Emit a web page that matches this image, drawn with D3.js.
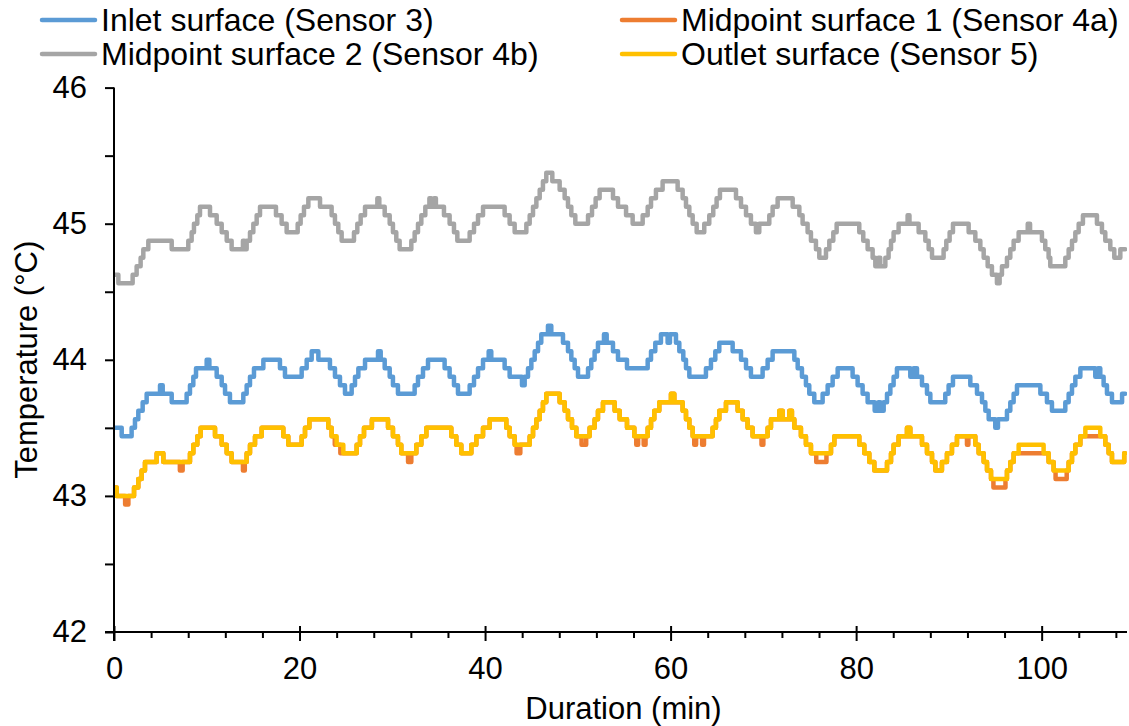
<!DOCTYPE html>
<html>
<head>
<meta charset="utf-8">
<script src="https://cdn.jsdelivr.net/npm/d3@7"></script>
<style>
  html, body { margin: 0; padding: 0; background: #fff; }
  svg { display: block; font-family: "Liberation Sans", Arial, sans-serif; }
</style>
</head>
<body>
<svg id="chart" width="1129" height="726"></svg>
<script>
// Surface temperature readings, [minute, °C], one entry per change of the logged value
const inletSurface = [
  [0,43.5],[0.83,43.4375],[1.9,43.5],[2.26,43.5625],[2.62,43.625],[3.09,43.6875],[3.52,43.75],
  [4.96,43.8125],[5.25,43.75],[6.22,43.6875],[7.83,43.75],[8.19,43.8125],[8.55,43.875],[8.84,43.9375],
  [9.99,44.0],[10.28,43.9375],[11.07,43.875],[11.61,43.8125],[11.97,43.75],[12.5,43.6875],
  [13.94,43.75],[14.3,43.8125],[14.66,43.875],[15.09,43.9375],[16.1,44.0],[17.89,43.9375],[18.43,43.875],
  [20.23,43.9375],[20.77,44.0],[21.31,44.0625],[22.03,44.0],[23.28,43.9375],[23.82,43.875],[24.36,43.8125],
  [24.9,43.75],[25.62,43.8125],[25.98,43.875],[26.34,43.9375],[27.06,44.0],[28.46,44.0625],[28.75,44.0],
  [29.18,43.9375],[29.72,43.875],[30.07,43.8125],[30.61,43.75],[32.41,43.8125],[32.77,43.875],[33.31,43.9375],
  [33.85,44.0],[35.64,43.9375],[36.18,43.875],[36.65,43.8125],[37.08,43.75],[38.34,43.8125],[38.81,43.875],
  [39.24,43.9375],[39.78,44.0],[40.39,44.0625],[40.67,44.0],[42.11,43.9375],[42.65,43.875],[43.98,43.8125],
  [44.27,43.875],[44.63,43.9375],[44.99,44.0],[45.35,44.0625],[45.71,44.125],[46.06,44.1875],[46.78,44.25],
  [47.14,44.1875],[48.4,44.125],[48.94,44.0625],[49.3,44.0],[49.66,43.9375],[50.02,43.875],[51.1,43.9375],
  [51.45,44.0],[51.81,44.0625],[52.17,44.125],[52.82,44.1875],[53.11,44.125],[53.79,44.0625],[54.33,44.0],
  [55.3,43.9375],[57.53,44.0],[57.89,44.0625],[58.35,44.125],[58.96,44.1875],[59.68,44.125],[59.93,44.1875],
  [60.58,44.125],[60.94,44.0625],[61.37,44.0],[61.66,43.9375],[62.02,43.875],[63.81,43.9375],[64.35,44.0],
  [64.82,44.0625],[65.25,44.125],[66.69,44.0625],[67.59,44.0],[68.13,43.9375],[68.66,43.875],[69.92,43.9375],
  [70.46,44.0],[71.0,44.0625],[73.34,44.0],[73.7,43.9375],[74.16,43.875],[74.59,43.8125],[74.95,43.75],
  [75.49,43.6875],[76.39,43.75],[76.93,43.8125],[77.47,43.875],[78.01,43.9375],[79.62,43.875],[80.16,43.8125],
  [80.7,43.75],[81.24,43.6875],[82.0,43.625],[82.4,43.6875],[82.6,43.625],[82.97,43.6875],[83.33,43.75],
  [83.69,43.8125],[84.04,43.875],[84.4,43.9375],[85.84,43.875],[86.2,43.9375],[86.56,43.875],[87.1,43.8125],
  [87.64,43.75],[88.0,43.6875],[89.61,43.75],[89.97,43.8125],[90.44,43.875],[92.31,43.8125],[93.03,43.75],
  [93.57,43.6875],[93.93,43.625],[94.29,43.5625],[95.0,43.5],[95.29,43.5625],[96.26,43.625],[96.62,43.6875],
  [96.98,43.75],[97.34,43.8125],[99.86,43.75],[100.57,43.6875],[101.11,43.625],[102.55,43.6875],[102.91,43.75],
  [103.27,43.8125],[103.63,43.875],[104.17,43.9375],[105.78,43.875],[106.07,43.9375],[106.32,43.875],
  [106.68,43.8125],[107.04,43.75],[107.58,43.6875],[108.67,43.75],[109.0,43.75]
];

const midpointSurface1 = [
  [0,43.0625],[0.29,43.0],[1.2,42.9375],[1.55,43.0],[2.16,43.0625],[2.62,43.125],[2.98,43.1875],[3.34,43.25],
  [4.6,43.3125],[5.32,43.25],[7.1,43.1875],[7.4,43.25],[8.19,43.3125],[8.55,43.375],[8.98,43.4375],[9.34,43.5],
  [10.89,43.4375],[11.61,43.375],[12.15,43.3125],[12.68,43.25],[13.9,43.1875],[14.1,43.25],[14.3,43.3125],
  [14.66,43.375],[15.2,43.4375],[15.92,43.5],[18.25,43.4375],[18.79,43.375],[20.23,43.4375],[20.59,43.5],
  [21.06,43.5625],[23.1,43.5],[23.46,43.4375],[23.8,43.375],[24.4,43.3125],[26.16,43.375],[26.52,43.4375],
  [26.95,43.5],[27.8,43.5625],[29.54,43.5],[30.07,43.4375],[30.61,43.375],[30.97,43.3125],[31.7,43.25],
  [32.05,43.3125],[32.59,43.375],[33.13,43.4375],[33.67,43.5],[36.36,43.4375],[36.9,43.375],[37.44,43.3125],
  [38.52,43.375],[39.06,43.4375],[39.78,43.5],[40.5,43.5625],[42.29,43.5],[42.65,43.4375],[43.19,43.375],
  [43.4,43.3125],[43.8,43.375],[44.81,43.4375],[45.17,43.5],[45.53,43.5625],[45.89,43.625],[46.24,43.6875],
  [46.6,43.75],[48.04,43.6875],[48.58,43.625],[48.94,43.5625],[49.37,43.5],[49.84,43.4375],[50.4,43.375],
  [50.9,43.4375],[51.27,43.5],[51.81,43.5625],[52.17,43.625],[52.71,43.6875],[53.97,43.625],[54.51,43.5625],
  [55.3,43.5],[56.09,43.4375],[56.3,43.375],[56.5,43.4375],[57.1,43.375],[57.3,43.4375],[57.53,43.5],
  [57.89,43.5625],[58.24,43.625],[58.78,43.6875],[60.04,43.75],[60.4,43.6875],[61.3,43.625],[61.66,43.5625],
  [62.02,43.5],[62.38,43.4375],[62.55,43.375],[62.75,43.4375],[63.4,43.375],[63.6,43.4375],[64.53,43.5],
  [64.89,43.5625],[65.25,43.625],[65.97,43.6875],[67.23,43.625],[67.77,43.5625],[68.3,43.5],[68.84,43.4375],
  [69.8,43.375],[70.0,43.4375],[70.46,43.5],[70.82,43.5625],[71.72,43.625],[72.08,43.5625],[72.8,43.625],
  [73.08,43.5625],[73.34,43.5],[74.05,43.4375],[74.59,43.375],[75.13,43.3125],[75.7,43.25],[76.8,43.3125],
  [77.29,43.375],[77.65,43.4375],[80.34,43.375],[80.88,43.3125],[81.42,43.25],[81.96,43.1875],[83.33,43.25],
  [83.76,43.3125],[84.04,43.375],[84.58,43.4375],[85.48,43.5],[85.84,43.4375],[87.1,43.375],[87.64,43.3125],
  [88.18,43.25],[88.54,43.1875],[89.25,43.25],[89.79,43.3125],[90.33,43.375],[90.87,43.4375],[91.95,43.375],
  [92.1,43.4375],[92.85,43.375],[93.21,43.3125],[93.75,43.25],[94.11,43.1875],[94.54,43.125],[94.8,43.0625],
  [96.1,43.125],[96.26,43.1875],[96.62,43.25],[96.98,43.3125],[100.75,43.25],[101.29,43.1875],[101.5,43.125],
  [102.7,43.1875],[102.91,43.25],[103.27,43.3125],[103.63,43.375],[104.17,43.4375],[106.86,43.375],
  [107.22,43.3125],[107.58,43.25],[108.9,43.3125],[109.0,43.3125]
];

const midpointSurface2 = [
  [0,44.625],[0.47,44.5625],[2.01,44.625],[2.44,44.6875],[2.87,44.75],[3.16,44.8125],[3.7,44.875],
  [6.22,44.8125],[8.01,44.875],[8.37,44.9375],[8.62,45.0],[8.98,45.0625],[9.27,45.125],[10.35,45.0625],
  [11.07,45.0],[11.61,44.9375],[12.15,44.875],[12.68,44.8125],[13.9,44.875],[14.05,44.8125],[14.3,44.875],
  [14.66,44.9375],[15.02,45.0],[15.38,45.0625],[15.74,45.125],[17.46,45.0625],[18.07,45.0],[18.61,44.9375],
  [19.8,45.0],[20.12,45.0625],[20.48,45.125],[20.95,45.1875],[22.21,45.125],[23.46,45.0625],[23.82,45.0],
  [24.18,44.9375],[24.54,44.875],[25.87,44.9375],[26.23,45.0],[26.59,45.0625],[27.06,45.125],[28.39,45.1875],
  [28.6,45.125],[29.18,45.0625],[29.72,45.0],[30.07,44.9375],[30.43,44.875],[30.79,44.8125],[32.05,44.875],
  [32.41,44.9375],[32.77,45.0],[33.13,45.0625],[33.56,45.125],[34.0,45.1875],[34.2,45.125],[34.5,45.1875],
  [34.7,45.125],[35.57,45.0625],[36.18,45.0],[36.65,44.9375],[37.01,44.875],[38.34,44.9375],[38.81,45.0],
  [39.24,45.0625],[39.78,45.125],[42.11,45.0625],[42.65,45.0],[43.19,44.9375],[44.45,45.0],[44.81,45.0625],
  [45.17,45.125],[45.53,45.1875],[45.89,45.25],[46.24,45.3125],[46.6,45.375],[47.25,45.3125],[48.04,45.25],
  [48.58,45.1875],[48.94,45.125],[49.3,45.0625],[49.73,45.0],[51.1,45.0625],[51.53,45.125],[51.92,45.1875],
  [52.35,45.25],[53.79,45.1875],[54.33,45.125],[55.2,45.0625],[55.91,45.0],[56.99,45.0625],[57.53,45.125],
  [57.89,45.1875],[58.42,45.25],[59.14,45.3125],[60.76,45.25],[61.3,45.1875],[61.66,45.125],[62.02,45.0625],
  [62.38,45.0],[62.81,44.9375],[63.63,45.0],[64.17,45.0625],[64.6,45.125],[64.96,45.1875],[65.32,45.25],
  [67.05,45.1875],[67.59,45.125],[68.13,45.0625],[68.66,45.0],[69.2,44.9375],[69.56,45.0],[70.64,45.0625],
  [71.0,45.125],[71.54,45.1875],[73.16,45.125],[73.88,45.0625],[74.23,45.0],[74.77,44.9375],[75.13,44.875],
  [75.67,44.8125],[76.03,44.75],[76.75,44.8125],[77.11,44.875],[77.54,44.9375],[77.9,45.0],[80.34,44.9375],
  [80.77,44.875],[81.24,44.8125],[81.78,44.75],[82.07,44.6875],[82.4,44.75],[82.6,44.6875],[83.15,44.75],
  [83.5,44.8125],[83.76,44.875],[84.04,44.9375],[84.58,45.0],[85.55,45.0625],[85.75,45.0],[86.74,44.9375],
  [87.46,44.875],[87.82,44.8125],[88.18,44.75],[89.43,44.8125],[89.72,44.875],[90.08,44.9375],[90.44,45.0],
  [92.13,44.9375],[92.85,44.875],[93.39,44.8125],[93.75,44.75],[94.18,44.6875],[94.64,44.625],[95.18,44.5625],
  [95.47,44.625],[95.72,44.6875],[96.26,44.75],[96.62,44.8125],[96.98,44.875],[97.52,44.9375],[98.5,45.0],
  [98.75,44.9375],[100.03,44.875],[100.39,44.8125],[100.75,44.75],[100.93,44.6875],[102.55,44.75],
  [102.91,44.8125],[103.27,44.875],[103.63,44.9375],[103.99,45.0],[104.45,45.0625],[105.96,45.0],[106.5,44.9375],
  [106.86,44.875],[107.4,44.8125],[107.83,44.75],[108.48,44.8125],[109.0,44.8125]
];

const outletSurface = [
  [0,43.0625],[0.29,43.0],[2.16,43.0625],[2.62,43.125],[2.98,43.1875],[3.34,43.25],[4.6,43.3125],[5.32,43.25],
  [8.19,43.3125],[8.55,43.375],[8.98,43.4375],[9.34,43.5],[10.89,43.4375],[11.61,43.375],[12.15,43.3125],
  [12.68,43.25],[14.3,43.3125],[14.66,43.375],[15.2,43.4375],[15.92,43.5],[18.25,43.4375],[18.79,43.375],
  [20.23,43.4375],[20.59,43.5],[21.06,43.5625],[23.1,43.5],[23.46,43.4375],[24.0,43.375],[24.72,43.3125],
  [26.16,43.375],[26.52,43.4375],[26.95,43.5],[27.8,43.5625],[29.54,43.5],[30.07,43.4375],[30.61,43.375],
  [30.97,43.3125],[32.59,43.375],[33.13,43.4375],[33.67,43.5],[36.36,43.4375],[36.9,43.375],[37.44,43.3125],
  [38.52,43.375],[39.06,43.4375],[39.78,43.5],[40.5,43.5625],[42.29,43.5],[42.65,43.4375],[43.19,43.375],
  [44.81,43.4375],[45.17,43.5],[45.53,43.5625],[45.89,43.625],[46.24,43.6875],[46.6,43.75],[48.04,43.6875],
  [48.58,43.625],[48.94,43.5625],[49.37,43.5],[49.84,43.4375],[51.27,43.5],[51.81,43.5625],[52.17,43.625],
  [52.71,43.6875],[53.97,43.625],[54.51,43.5625],[55.3,43.5],[56.09,43.4375],[57.53,43.5],[57.89,43.5625],
  [58.24,43.625],[58.78,43.6875],[60.04,43.75],[60.4,43.6875],[61.3,43.625],[61.66,43.5625],[62.02,43.5],
  [62.38,43.4375],[64.53,43.5],[64.89,43.5625],[65.25,43.625],[65.97,43.6875],[67.23,43.625],[67.77,43.5625],
  [68.3,43.5],[68.84,43.4375],[70.46,43.5],[70.82,43.5625],[71.72,43.625],[72.08,43.5625],[72.8,43.625],
  [73.08,43.5625],[73.34,43.5],[74.05,43.4375],[74.59,43.375],[75.13,43.3125],[77.29,43.375],[77.65,43.4375],
  [80.34,43.375],[80.88,43.3125],[81.42,43.25],[81.96,43.1875],[83.33,43.25],[83.76,43.3125],[84.04,43.375],
  [84.58,43.4375],[85.48,43.5],[85.84,43.4375],[87.1,43.375],[87.64,43.3125],[88.18,43.25],[88.54,43.1875],
  [89.25,43.25],[89.79,43.3125],[90.33,43.375],[90.87,43.4375],[92.85,43.375],[93.21,43.3125],[93.75,43.25],
  [94.11,43.1875],[94.54,43.125],[96.26,43.1875],[96.62,43.25],[96.98,43.3125],[97.52,43.375],[100.21,43.3125],
  [100.75,43.25],[101.29,43.1875],[102.91,43.25],[103.27,43.3125],[103.63,43.375],[104.17,43.4375],[104.71,43.5],
  [106.32,43.4375],[106.86,43.375],[107.22,43.3125],[107.58,43.25],[108.9,43.3125],[109.0,43.3125]
];

const seriesNames = [
  "Inlet surface (Sensor 3)",
  "Midpoint surface 1 (Sensor 4a)",
  "Midpoint surface 2 (Sensor 4b)",
  "Outlet surface (Sensor 5)"
];
const seriesColors = ["#5B9BD5", "#ED7D31", "#A5A5A5", "#FFC000"];
const seriesData = [inletSurface, midpointSurface1, midpointSurface2, outletSurface];

const xMajorTicks = [0, 20, 40, 60, 80, 100];
const xMinorTicks = d3.range(0, 109, 4);
const yMajorTicks = [42, 43, 44, 45, 46];
const yMinorTicks = [42.5, 43.5, 44.5, 45.5];

const xTitle = "Duration (min)";
const yTitle = "Temperature (°C)";

// ---- layout ----
const svg = d3.select("#chart");
const plot = { left: 114, right: 1127, top: 87.6, bottom: 632 };
const fontSize = 31;

const x = d3.scaleLinear().domain([0, 109.2]).range([plot.left, plot.right]);
const y = d3.scaleLinear().domain([42, 46]).range([plot.bottom, plot.top]);

svg.append("defs").append("clipPath").attr("id", "plotClip")
  .append("rect")
  .attr("x", plot.left).attr("y", plot.top - 10)
  .attr("width", plot.right - plot.left).attr("height", plot.bottom - plot.top + 20);

// ---- series ----
const line = d3.line()
  .x(d => x(d[0]))
  .y(d => y(d[1]))
  .curve(d3.curveStepAfter);

const linesG = svg.append("g").attr("clip-path", "url(#plotClip)");
seriesData.forEach((data, i) => {
  linesG.append("path")
    .datum(data)
    .attr("fill", "none")
    .attr("stroke", seriesColors[i])
    .attr("stroke-width", 4.5)
    .attr("stroke-linejoin", "round")
    .attr("stroke-linecap", "round")
    .attr("d", line);
});

// ---- y axis ----
const yAxis = svg.append("g").attr("transform", `translate(${plot.left},0)`);
yAxis.append("g")
  .call(d3.axisLeft(y).tickValues(yMinorTicks).tickSize(9).tickFormat(""))
  .call(g => g.select(".domain").remove());
yAxis.append("g")
  .call(d3.axisLeft(y).tickValues(yMajorTicks).tickSize(9).tickSizeOuter(0).tickPadding(18).tickFormat(d3.format("d")))
  .call(g => g.select(".domain").remove())
  .call(g => g.selectAll("text")
    .attr("font-size", fontSize)
    .attr("font-family", "Liberation Sans, Arial, sans-serif")
    .attr("fill", "#000"));
yAxis.selectAll(".tick line").attr("stroke", "#000").attr("stroke-width", 2);
yAxis.append("line")
  .attr("x1", 0).attr("x2", 0)
  .attr("y1", plot.top).attr("y2", plot.bottom + 9)
  .attr("stroke", "#000").attr("stroke-width", 2);

// ---- x axis ----
const xAxis = svg.append("g").attr("transform", `translate(0,${plot.bottom})`);
xAxis.append("g")
  .call(d3.axisBottom(x).tickValues(xMinorTicks.filter(v => v % 20 !== 0)).tickSize(6).tickFormat(""))
  .call(g => g.select(".domain").remove());
const xMaj = xAxis.append("g")
  .call(d3.axisBottom(x).tickValues(xMajorTicks).tickSize(9).tickPadding(16).tickFormat(d3.format("d")))
  .call(g => g.select(".domain").remove());
xMaj.selectAll(".tick line").attr("y1", -6);
xMaj.selectAll("text")
  .attr("font-size", fontSize)
  .attr("font-family", "Liberation Sans, Arial, sans-serif")
  .attr("fill", "#000");
xAxis.selectAll(".tick line").attr("stroke", "#000").attr("stroke-width", 2);
xAxis.append("line")
  .attr("x1", plot.left - 9).attr("x2", plot.right)
  .attr("y1", 0).attr("y2", 0)
  .attr("stroke", "#000").attr("stroke-width", 2);

// ---- axis titles ----
svg.append("text")
  .attr("x", (plot.left + plot.right) / 2 + 3)
  .attr("y", 719)
  .attr("text-anchor", "middle")
  .attr("font-size", fontSize)
  .attr("fill", "#000")
  .text(xTitle);

svg.append("text")
  .attr("transform", `translate(37,${(plot.top + plot.bottom) / 2}) rotate(-90)`)
  .attr("text-anchor", "middle")
  .attr("font-size", fontSize)
  .attr("fill", "#000")
  .text(yTitle);

// ---- legend (two columns, two rows) ----
const legendOrder = [0, 1, 2, 3];
const legendCols = [{ x0: 42, x1: 95, tx: 101 }, { x0: 622, x1: 675, tx: 681 }];
const legendRows = [20, 54];
legendOrder.forEach((s, k) => {
  const col = legendCols[k % 2];
  const rowY = legendRows[Math.floor(k / 2)];
  const g = svg.append("g");
  g.append("line")
    .attr("x1", col.x0).attr("x2", col.x1)
    .attr("y1", rowY).attr("y2", rowY)
    .attr("stroke", seriesColors[s])
    .attr("stroke-width", 4.5)
    .attr("stroke-linecap", "round");
  g.append("text")
    .attr("x", col.tx)
    .attr("y", rowY)
    .attr("dy", "0.35em")
    .attr("font-size", 32)
    .attr("fill", "#000")
    .text(seriesNames[s]);
});
</script>
</body>
</html>
